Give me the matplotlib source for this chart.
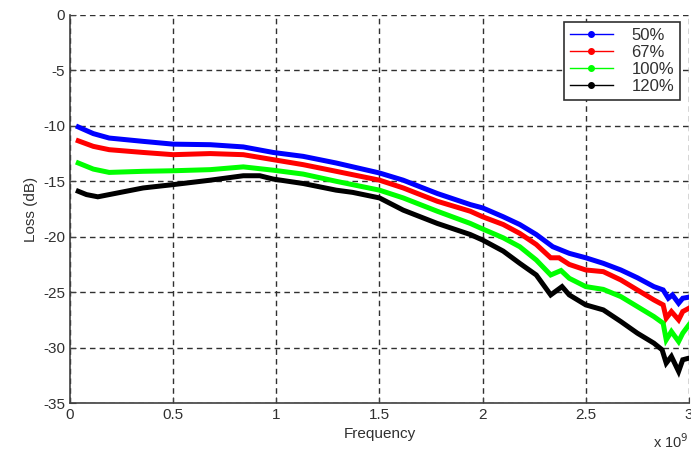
import matplotlib
matplotlib.use('Agg')
import matplotlib.pyplot as plt
from matplotlib.lines import Line2D
from matplotlib.ticker import FuncFormatter
import numpy as np

plt.rcParams['font.family'] = ['Liberation Sans', 'DejaVu Sans']
plt.rcParams['axes.unicode_minus'] = False

# frequency in GHz (axis shown as x 10^9 Hz)
freq_50 = [0.04, 0.113, 0.19, 0.355, 0.5, 0.68, 0.84, 0.985, 1.13, 1.29, 1.5, 1.615, 1.78, 1.94, 2.0,
           2.1, 2.18, 2.26, 2.34, 2.42, 2.5, 2.585, 2.67, 2.75, 2.83, 2.875, 2.9, 2.92, 2.95, 2.97, 3.0]
loss_50 = [-10.1, -10.7, -11.1, -11.4, -11.65, -11.7, -11.9, -12.4, -12.75, -13.35, -14.25, -14.9, -16.1, -17.1, -17.4,
           -18.2, -18.9, -19.8, -20.9, -21.5, -21.9, -22.4, -23.0, -23.7, -24.5, -24.8, -25.55, -25.25, -26.0, -25.55, -25.45]

freq_67 = [0.04, 0.113, 0.19, 0.355, 0.5, 0.68, 0.84, 0.985, 1.13, 1.29, 1.5, 1.615, 1.78, 1.94, 2.0,
           2.1, 2.18, 2.26, 2.33, 2.37, 2.42, 2.5, 2.585, 2.67, 2.75, 2.83, 2.875, 2.89, 2.915, 2.95, 2.97, 3.0]
loss_67 = [-11.35, -11.85, -12.15, -12.4, -12.6, -12.5, -12.6, -13.05, -13.5, -14.1, -14.9, -15.6, -16.8, -17.7, -18.2,
           -18.9, -19.7, -20.7, -21.9, -21.9, -22.5, -23.0, -23.15, -23.9, -24.8, -25.7, -26.15, -27.35, -26.75, -27.5, -26.75, -26.45]

freq_100 = [0.04, 0.113, 0.19, 0.355, 0.5, 0.68, 0.84, 0.985, 1.13, 1.29, 1.5, 1.615, 1.78, 1.94, 2.0,
            2.1, 2.18, 2.26, 2.33, 2.38, 2.42, 2.5, 2.585, 2.67, 2.75, 2.83, 2.875, 2.89, 2.915, 2.95, 2.97, 3.0]
loss_100 = [-13.35, -13.9, -14.2, -14.1, -14.05, -13.95, -13.7, -14.0, -14.35, -15.0, -15.8, -16.5, -17.7, -18.8, -19.3,
            -20.1, -20.9, -22.1, -23.45, -23.05, -23.75, -24.5, -24.75, -25.4, -26.3, -27.2, -27.8, -29.3, -28.55, -29.45, -28.7, -27.95]

freq_120 = [0.04, 0.08, 0.135, 0.19, 0.355, 0.5, 0.68, 0.84, 0.92, 0.985, 1.13, 1.29, 1.37, 1.5, 1.615, 1.78, 1.94, 2.0,
            2.1, 2.18, 2.26, 2.33, 2.385, 2.42, 2.5, 2.585, 2.67, 2.75, 2.83, 2.87, 2.89, 2.915, 2.95, 2.97, 3.0]
loss_120 = [-15.9, -16.2, -16.4, -16.2, -15.6, -15.3, -14.9, -14.5, -14.5, -14.8, -15.2, -15.8, -16.0, -16.5, -17.6, -18.8, -19.8, -20.3,
            -21.3, -22.4, -23.45, -25.25, -24.5, -25.25, -26.15, -26.6, -27.65, -28.7, -29.6, -30.2, -31.4, -30.8, -32.15, -31.1, -30.95]

labels = ['50%', '67%', '100%', '120%']
colors = ['#0000ff', '#ff0000', '#00ff00', '#000000']

fig = plt.figure(figsize=(6.91, 4.5), dpi=100)
ax = fig.add_axes([0.1013, 0.1044, 0.8957, 0.8623])

series = [(freq_50, loss_50), (freq_67, loss_67), (freq_100, loss_100), (freq_120, loss_120)]
for (f, l), c in zip(series, colors):
    ax.plot(np.array(f) * 1e9, l, color=c, lw=3.6, solid_joinstyle='miter')

ax.set_xlim(0, 3e9)
ax.set_ylim(-35, 0)
ax.set_xticks(np.arange(0, 3.01e9, 0.5e9))
ax.set_yticks(np.arange(-35, 1, 5))
ax.xaxis.set_major_formatter(FuncFormatter(lambda v, p: '%g' % (v / 1e9)))
ax.grid(True, color='#303030', linestyle=(0, (4, 3)), lw=1)
ax.set_axisbelow(True)
for s in ['top', 'right']:
    ax.spines[s].set_visible(False)
for s in ['left', 'bottom']:
    ax.spines[s].set_color('#404040')
    ax.spines[s].set_linewidth(1.2)
ax.tick_params(direction='in', length=4, colors='#404040', labelcolor='#303030', labelsize=11)

ax.set_xlabel('Frequency', fontsize=11, color='#303030', labelpad=4)
ax.set_ylabel('Loss (dB)', fontsize=11, color='#303030', labelpad=4)
ax.text(1.0, -0.075, 'x 10$^{9}$', transform=ax.transAxes, ha='right', va='top',
        fontsize=10.5, color='#303030')

handles = [Line2D([0], [0], color=c, lw=1, marker='.', markersize=8) for c in colors]
leg = ax.legend(handles, labels, loc='upper right', bbox_to_anchor=(0.9855, 0.982),
                fontsize=12, fancybox=False, framealpha=1, edgecolor='#303030',
                borderpad=0.35, labelspacing=0.12, handlelength=2.6, handletextpad=1.1,
                borderaxespad=0.0)
leg.get_frame().set_linewidth(1.2)
for t in leg.get_texts():
    t.set_color('#303030')

fig.savefig('out.png', dpi=100)
